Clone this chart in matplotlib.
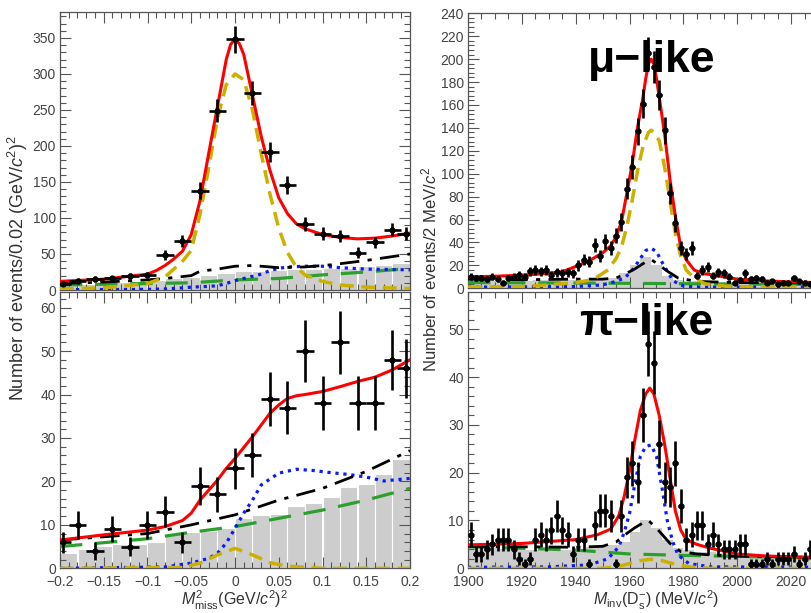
import numpy as np
import matplotlib
matplotlib.use("Agg")
import matplotlib.pyplot as plt
from matplotlib.ticker import MultipleLocator

plt.rcParams['font.family'] = ['Liberation Sans', 'DejaVu Sans']
plt.rcParams['mathtext.fontset'] = 'custom'
plt.rcParams['mathtext.rm'] = 'Liberation Sans'
plt.rcParams['mathtext.it'] = 'Liberation Sans:italic'
plt.rcParams['mathtext.bf'] = 'Liberation Sans:bold'

# ---------------- left column: M^2_miss ----------------
mm_x = [-0.197, -0.18, -0.16, -0.14, -0.12, -0.10, -0.08, -0.06, -0.04, -0.02, 0.0,
        0.02, 0.04, 0.06, 0.08, 0.10, 0.12, 0.14, 0.16, 0.18, 0.195]
mu_mm_counts = [9, 13, 15, 16, 19, 21, 48, 68, 138, 249, 348, 274, 191, 146, 92, 78,
                75, 52, 66, 84, 78]
pi_mm_counts = [6, 10, 4, 9, 5, 10, 13, 6, 19, 17, 23, 26, 39, 37, 50, 38, 52, 38, 38,
                48, 46]

mm_edges = [-0.2, -0.18, -0.16, -0.14, -0.12, -0.10, -0.08, -0.06, -0.04, -0.02, 0.0,
            0.02, 0.04, 0.06, 0.08, 0.10, 0.12, 0.14, 0.16, 0.18, 0.2]
mu_mm_hist = [8, 9, 10, 11, 12, 14, 16, 18, 21, 24, 26, 27, 28, 29, 29, 30, 31, 33, 35, 38]
pi_mm_hist = [3.6, 4.4, 5.2, 5.5, 5.5, 6.1, 8.0, 8.3, 8.7, 9.2, 11.5, 12.3, 12.5, 14.3,
              15.1, 16.5, 18.6, 19.3, 21.7, 25.2]

# fit curves
mu_mm_tot_x = [-0.2, -0.15, -0.1, -0.09, -0.08, -0.07, -0.06, -0.05, -0.04, -0.03, -0.02,
               -0.01, -0.005, 0.0, 0.005, 0.01, 0.02, 0.03, 0.04, 0.05, 0.06, 0.07, 0.08,
               0.1, 0.12, 0.14, 0.16, 0.18, 0.2]
mu_mm_tot_y = [12, 15, 22, 27, 34, 43, 54, 77, 124, 190, 255, 320, 341, 348, 342, 327, 270,
               213, 166, 128, 106, 92, 85, 77, 73, 71, 72, 75, 79]
mu_mm_sig_x = [-0.2, -0.15, -0.1, -0.08, -0.06, -0.05, -0.04, -0.03, -0.02, -0.01, 0.0,
               0.01, 0.02, 0.03, 0.04, 0.05, 0.06, 0.07, 0.08, 0.1, 0.12, 0.15, 0.2]
mu_mm_sig_y = [1.5, 3, 9, 18, 40, 55, 105, 170, 238, 285, 300, 292, 250, 189, 133, 86, 52,
               32, 21, 12, 7, 4, 2]
mu_mm_bkg_x = [-0.2, -0.15, -0.1, -0.08, -0.05, -0.04, -0.02, 0.0, 0.02, 0.05, 0.08, 0.11,
               0.15, 0.2]
mu_mm_bkg_y = [9, 11, 14, 16, 20, 26, 29, 33, 34, 31, 32, 35, 41, 50]
mu_mm_pi_x = [-0.2, -0.1, -0.08, -0.06, -0.05, -0.03, -0.02, -0.01, 0.0, 0.01, 0.02, 0.03,
              0.04, 0.05, 0.06, 0.08, 0.1, 0.12, 0.15, 0.2]
mu_mm_pi_y = [0.5, 0.8, 1.5, 3, 4, 5, 6, 9, 13, 16, 19, 22, 27, 30, 32, 33, 33, 31, 29, 28]
mu_mm_comb_x = [-0.2, -0.1, -0.05, 0.0, 0.05, 0.1, 0.15, 0.2]
mu_mm_comb_y = [7, 9, 10, 14, 16, 21, 25, 30]

pi_mm_tot_x = [-0.2, -0.15, -0.1, -0.08, -0.06, -0.05, -0.04, -0.03, -0.02, -0.01, 0.0,
               0.01, 0.02, 0.03, 0.04, 0.05, 0.06, 0.07, 0.08, 0.1, 0.12, 0.14, 0.16,
               0.18, 0.2]
pi_mm_tot_y = [6.5, 7.7, 8.8, 9.6, 11, 12.7, 15.7, 18, 20.3, 23, 25.3, 27.8, 30.3, 33,
               35.7, 37.6, 39.1, 39.7, 40, 40.7, 41.8, 43, 44, 45.7, 48]
pi_mm_bkg_x = [-0.2, -0.1, -0.05, 0.0, 0.05, 0.1, 0.15, 0.2]
pi_mm_bkg_y = [6.5, 8, 10, 12.3, 15.7, 18.4, 22.3, 27.1]
pi_mm_comb_x = [-0.2, -0.1, -0.05, 0.0, 0.05, 0.1, 0.15, 0.2]
pi_mm_comb_y = [5, 6.8, 8.3, 9.6, 11.5, 13.4, 15.7, 18.4]
pi_mm_pi_x = [-0.2, -0.08, -0.05, -0.03, -0.02, -0.01, 0.0, 0.01, 0.02, 0.03, 0.05, 0.07,
              0.09, 0.11, 0.13, 0.15, 0.17, 0.2]
pi_mm_pi_y = [0, 0.3, 1.2, 2.3, 3.5, 5.8, 9.2, 12.7, 15.7, 19.2, 21.9, 22.8, 22.5, 22,
              21.6, 21, 20.1, 20.7]
pi_mm_sig_x = [-0.2, -0.06, -0.04, -0.02, 0.0, 0.02, 0.04, 0.06, 0.1, 0.2]
pi_mm_sig_y = [0, 0.2, 1.2, 3.1, 4.6, 3.1, 1.3, 0.5, 0, 0]

# ---------------- right column: M_inv(Ds) ----------------
minv_x = [1901, 1903, 1905, 1907, 1909, 1911, 1913, 1915, 1917, 1919, 1921, 1923, 1925,
          1927, 1929, 1931, 1933, 1935, 1937, 1939, 1941, 1943, 1945, 1947, 1949, 1951,
          1953, 1955, 1957, 1959, 1961, 1963, 1965, 1967, 1969, 1971, 1973, 1975, 1977,
          1979, 1981, 1983, 1985, 1987, 1989, 1991, 1993, 1995, 1997, 1999, 2001, 2003,
          2005, 2007, 2009, 2011, 2013, 2015, 2017, 2019, 2021, 2023, 2025, 2027, 2029,
          2031]
mu_inv_counts = [10, 9, 9, 8, 10, 8, 5, 9, 10, 12, 10, 15, 16, 15, 16, 12, 14, 13, 14, 13,
                 20, 25, 23, 38, 28, 41, 35, 46, 58, 87, 106, 137, 161, 205, 193, 169, 138,
                 83, 57, 35, 30, 35, 11, 16, 19, 11, 14, 13, 10, 5, 7, 13, 8, 9, 8, 5, 6,
                 4, 5, 5, 9, 6, 5, 4, 5, 4]
pi_inv_counts = [7, 3, 3, 4, 5, 6, 6, 6, 4, 2, 1, 2, 6, 7, 6, 8, 11, 8, 7, 3, 6, 6, 1, 9,
                 12, 12, 11, 1, 11, 19, 22, 18, 32, 47, 43, 26, 18, 17, 22, 13, 6, 7, 9,
                 9, 5, 7, 5, 4, 4, 4, 5, 5, 1, 1, 1, 2, 1, 2, 2, 2, 3, 1, 2, 4, 4, 3]

inv_edges = [1900, 1904, 1908, 1912, 1916, 1920, 1924, 1928, 1932, 1936, 1940, 1944, 1948,
             1952, 1956, 1960, 1964, 1968, 1972, 1976, 1980, 1984, 1988, 1992, 1996, 2000,
             2004, 2008, 2012, 2016, 2020, 2024, 2028, 2032, 2036, 2040]
mu_inv_hist = [6, 6, 6, 5, 6, 6, 7, 7, 7, 7, 7, 8, 8, 9, 13, 20, 27, 20, 11, 7, 6, 6, 5, 5,
               5, 4, 4, 4, 4, 4, 4, 4, 4, 4, 4]
pi_inv_hist = [4.2, 4.2, 4.2, 4, 4, 3.8, 3.8, 3.8, 3.8, 3.8, 3.8, 4.5, 4.5, 4.8, 5.5, 7.5,
               10.2, 8.5, 6, 4.2, 3.8, 3.5, 3.5, 3.2, 3, 2.8, 2.3, 2.2, 2.1, 2.1, 2, 2, 2,
               2, 2]

mu_inv_tot_x = [1900, 1910, 1920, 1930, 1935, 1940, 1945, 1950, 1953, 1955, 1957, 1959,
                1961, 1963, 1965, 1966, 1967, 1968, 1969, 1970, 1971, 1973, 1975, 1977,
                1979, 1981, 1984, 1987, 1990, 1995, 2000, 2010, 2020, 2030, 2040]
mu_inv_tot_y = [10, 10.5, 11.5, 13, 14.5, 19, 24, 31, 37, 45, 58, 83, 109, 141, 167, 183,
                196, 200, 196, 183, 167, 135, 95, 63, 36, 25, 16, 13, 12, 10, 8, 6.5, 5.5,
                5, 4.5]
mu_inv_sig_x = [1900, 1920, 1930, 1940, 1945, 1948, 1952, 1955, 1957, 1959, 1961, 1963,
                1965, 1967, 1968, 1969, 1971, 1973, 1975, 1977, 1979, 1981, 1984, 1988,
                1995, 2000, 2040]
mu_inv_sig_y = [1, 1.5, 3, 5, 7, 10, 16, 26, 36, 54, 77, 103, 124, 136, 138, 136, 129,
                106, 77, 48, 28, 16, 9, 4, 2, 1.5, 1]
mu_inv_pi_x = [1900, 1940, 1950, 1955, 1958, 1960, 1962, 1964, 1966, 1968, 1970, 1972,
               1974, 1976, 1978, 1980, 1985, 2040]
mu_inv_pi_y = [1, 1.5, 3, 6, 9, 13, 19, 26, 33, 35, 32, 23, 15, 7, 4, 2, 1, 1]
mu_inv_bkg_x = [1900, 1920, 1940, 1950, 1955, 1958, 1962, 1966, 1968, 1970, 1974, 1978,
                1985, 2000, 2040]
mu_inv_bkg_y = [8, 7.5, 8, 8, 9, 12, 17, 23, 25, 22, 15, 9, 6, 5, 4.5]
mu_inv_comb_x = [1900, 1950, 2000, 2040]
mu_inv_comb_y = [5, 4.5, 3.7, 3.3]

pi_inv_tot_x = [1900, 1920, 1940, 1948, 1953, 1956, 1958, 1960, 1962, 1964, 1966, 1967.5,
                1969, 1971, 1973, 1975, 1977, 1979, 1981, 1985, 1990, 2000, 2010, 2020,
                2040]
pi_inv_tot_y = [4.9, 5.2, 6, 7, 8.2, 11, 15, 20.5, 27, 33, 36.5, 37.7, 36.5, 32, 26, 19,
                12, 8, 6, 5, 4.2, 3, 2.6, 2.4, 2.2]
pi_inv_pi_x = [1900, 1930, 1945, 1952, 1956, 1958, 1960, 1962, 1964, 1966, 1968, 1970,
               1972, 1974, 1976, 1978, 1982, 1990, 2040]
pi_inv_pi_y = [0.2, 0.3, 0.7, 2, 4.5, 7.5, 11.5, 17.8, 23.4, 25.5, 25.8, 23.4, 17, 10, 5.6,
               2.8, 1, 0.3, 0.2]
pi_inv_bkg_x = [1900, 1920, 1940, 1950, 1955, 1959, 1962, 1965, 1967, 1970, 1973, 1975,
                1979, 1985, 1990, 2000, 2040]
pi_inv_bkg_y = [4.6, 4.5, 4.4, 4.6, 5.5, 7.3, 8.5, 9.5, 10, 8.4, 6.5, 5.2, 3.5, 3, 2.8,
                2.5, 2.2]
pi_inv_comb_x = [1900, 1920, 1940, 1960, 1980, 2000, 2040]
pi_inv_comb_y = [4.5, 4.2, 3.8, 3.0, 2.7, 2.5, 2.0]
pi_inv_sig_x = [1900, 1950, 1955, 1960, 1964, 1968, 1972, 1976, 1982, 1990, 2040]
pi_inv_sig_y = [0, 0, 0.3, 1, 1.6, 1.9, 1.6, 1, 0.3, 0, 0]

GRAY = '#cdcdcd'
FRAME = '#555555'
W, H = 812.0, 613.0


def frac(x0, y0, x1, y1):
    # pixel box -> figure fraction [left, bottom, width, height]
    return [x0 / W, 1 - y1 / H, (x1 - x0) / W, (y1 - y0) / H]


def style(ax, xmaj, xmin, ymaj, ymin):
    ax.xaxis.set_major_locator(MultipleLocator(xmaj))
    ax.xaxis.set_minor_locator(MultipleLocator(xmin))
    ax.yaxis.set_major_locator(MultipleLocator(ymaj))
    ax.yaxis.set_minor_locator(MultipleLocator(ymin))
    ax.tick_params(which='both', direction='in', top=True, right=True, color=FRAME,
                   labelcolor='#444444', labelsize=10, width=0.8)
    ax.tick_params(which='major', length=8)
    ax.tick_params(which='minor', length=4)
    ax.tick_params(axis='x', pad=5)
    ax.tick_params(axis='y', pad=3)
    for s in ax.spines.values():
        s.set_color(FRAME)
        s.set_linewidth(0.9)


def curves(ax, tot, sig, pi, bkg, comb):
    ax.plot(comb[0], comb[1], color='#2ca02c', lw=2.3, dashes=(7, 4), zorder=3)
    ax.plot(pi[0], pi[1], color='#0a1aff', lw=2.3, dashes=(1, 1.5), zorder=3)
    ax.plot(bkg[0], bkg[1], color='black', lw=2.0, dashes=(7, 3, 1.5, 3), zorder=3)
    ax.plot(sig[0], sig[1], color='#ccb000', lw=2.5, dashes=(4, 2.2), zorder=3)
    ax.plot(tot[0], tot[1], color='#ff0000', lw=2.2, zorder=4)


def points(ax, x, y, xe):
    y = np.array(y, dtype=float)
    ax.errorbar(x, y, yerr=np.sqrt(y), xerr=xe, fmt='o', ms=3.5, color='black',
                elinewidth=1.9, capsize=0, zorder=5)


fig = plt.figure(figsize=(8.12, 6.13), dpi=100)

# top left
ax1 = fig.add_axes(frac(60, 12, 410, 290))
ax1.bar(mm_edges[:-1], mu_mm_hist, width=0.02, align='edge', color=GRAY,
        edgecolor='white', linewidth=0.8, zorder=1)
curves(ax1, (mu_mm_tot_x, mu_mm_tot_y), (mu_mm_sig_x, mu_mm_sig_y),
       (mu_mm_pi_x, mu_mm_pi_y), (mu_mm_bkg_x, mu_mm_bkg_y), (mu_mm_comb_x, mu_mm_comb_y))
points(ax1, mm_x, mu_mm_counts, 0.01)
ax1.set_xlim(-0.2, 0.2)
ax1.set_ylim(0, 386)
style(ax1, 0.05, 0.01, 50, 10)
ax1.tick_params(labelbottom=False)

# bottom left
ax2 = fig.add_axes(frac(60, 292, 410, 568.3))
ax2.bar(mm_edges[:-1], pi_mm_hist, width=0.02, align='edge', color=GRAY,
        edgecolor='white', linewidth=0.8, zorder=1)
curves(ax2, (pi_mm_tot_x, pi_mm_tot_y), (pi_mm_sig_x, pi_mm_sig_y),
       (pi_mm_pi_x, pi_mm_pi_y), (pi_mm_bkg_x, pi_mm_bkg_y), (pi_mm_comb_x, pi_mm_comb_y))
points(ax2, mm_x, pi_mm_counts, 0.01)
ax2.set_xlim(-0.2, 0.2)
ax2.set_ylim(0, 63.6)
style(ax2, 0.05, 0.01, 10, 2)
ax2.set_xticks([-0.2, -0.15, -0.1, -0.05, 0, 0.05, 0.1, 0.15, 0.2])
ax2.set_xticklabels(['\u22120.2', '\u22120.15', '\u22120.1', '\u22120.05', '0', '0.05',
                     '0.1', '0.15', '0.2'])
ax2.set_xlabel(r'$M^2_{\mathrm{miss}}$(GeV/$c^2$)$^2$', fontsize=11.5, color='#333333',
               labelpad=0)

# top right (axis runs past the right edge of the picture)
ax3 = fig.add_axes(frac(468, 13.3, 845, 288.3))
ax3.stairs(mu_inv_hist, inv_edges, fill=True, color=GRAY, zorder=1)
curves(ax3, (mu_inv_tot_x, mu_inv_tot_y), (mu_inv_sig_x, mu_inv_sig_y),
       (mu_inv_pi_x, mu_inv_pi_y), (mu_inv_bkg_x, mu_inv_bkg_y),
       (mu_inv_comb_x, mu_inv_comb_y))
points(ax3, minv_x, mu_inv_counts, 1)
ax3.set_xlim(1900, 2040)
ax3.set_ylim(0, 240)
style(ax3, 20, 5, 20, 4)
ax3.tick_params(labelbottom=False)

# bottom right
ax4 = fig.add_axes(frac(468, 292, 845, 568.3))
ax4.stairs(pi_inv_hist, inv_edges, fill=True, color=GRAY, zorder=1)
curves(ax4, (pi_inv_tot_x, pi_inv_tot_y), (pi_inv_sig_x, pi_inv_sig_y),
       (pi_inv_pi_x, pi_inv_pi_y), (pi_inv_bkg_x, pi_inv_bkg_y),
       (pi_inv_comb_x, pi_inv_comb_y))
points(ax4, minv_x, pi_inv_counts, 1)
ax4.set_xlim(1900, 2040)
ax4.set_ylim(0, 57.8)
style(ax4, 20, 5, 10, 2)
ax4.set_xlabel(r'$M_{\mathrm{inv}}$(D$_{\mathrm{s}}^{-}$) (MeV/$c^2$)', fontsize=11.5,
               color='#333333', labelpad=0)

fig.text(18 / W, 1 - 268 / H, r'Number of events/0.02 (GeV/$c^2$)$^2$', rotation=90,
         ha='center', va='center', fontsize=13, color='#333333')
fig.text(429 / W, 1 - 269 / H, r'Number of events/2 MeV/$c^2$', rotation=90,
         ha='center', va='center', fontsize=12, color='#333333')

fig.text(652 / W, 1 - 72 / H, '\u03bc\u2212like', ha='center', va='baseline',
         fontsize=32, fontweight='bold', zorder=10)
fig.text(646 / W, 1 - 335 / H, '\u03c0\u2212like', ha='center', va='baseline',
         fontsize=32, fontweight='bold', zorder=10)

fig.savefig('out.png', dpi=100)
